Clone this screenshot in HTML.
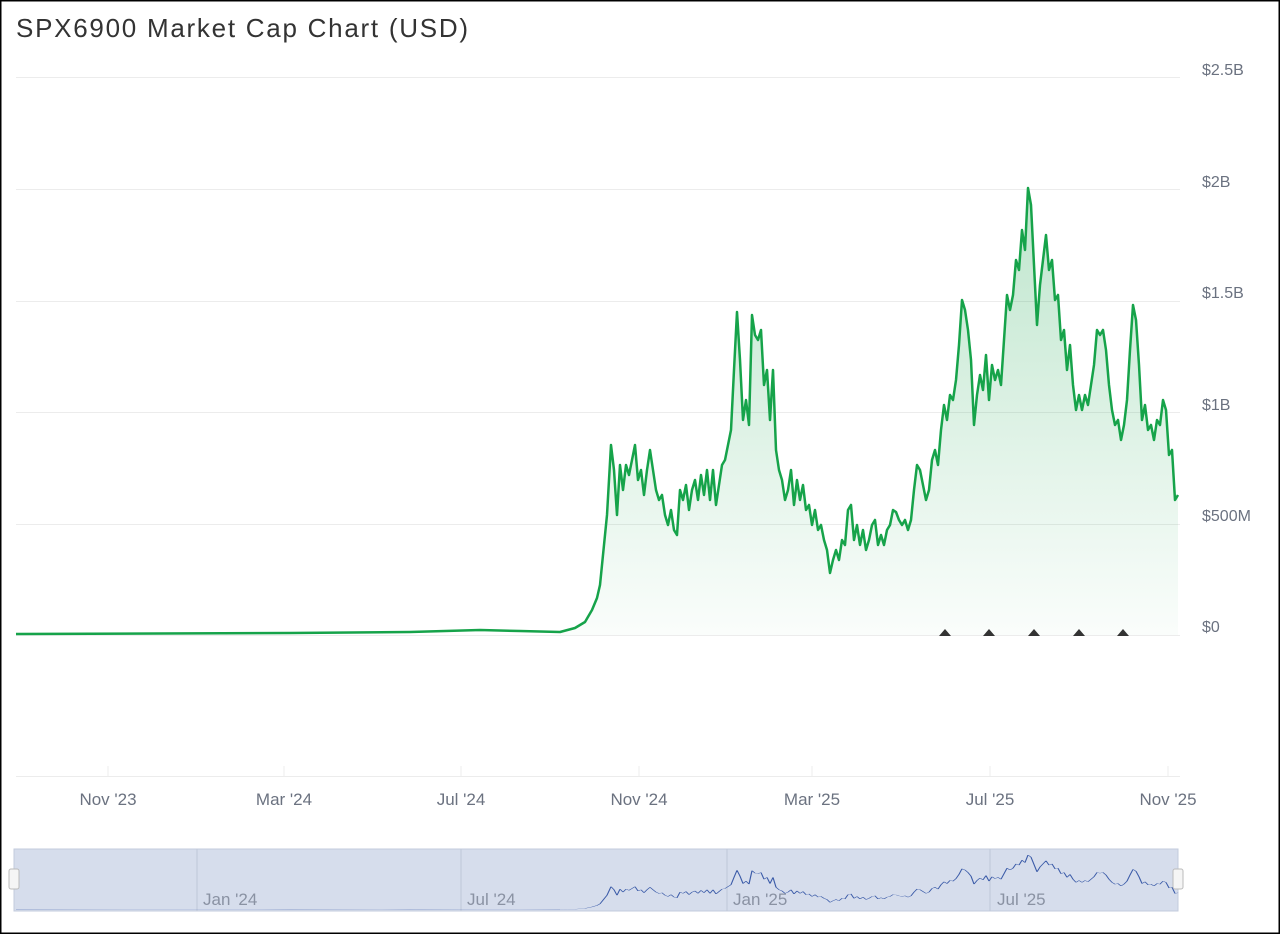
<!DOCTYPE html>
<html><head><meta charset="utf-8"><style>
html,body{margin:0;padding:0;background:#fff}
body{width:1280px;height:934px;overflow:hidden;position:relative;font-family:"Liberation Sans",sans-serif}
</style></head><body>
<svg width="1280" height="934" viewBox="0 0 1280 934" style="position:absolute;left:0;top:0">
<defs>
<linearGradient id="g" x1="0" y1="0" x2="0" y2="1">
<stop offset="0" stop-color="#16a34a" stop-opacity="0.28"/>
<stop offset="1" stop-color="#16a34a" stop-opacity="0.02"/>
</linearGradient>
<polyline id="ln" points="16,634 290,633 410,632 480,630 520,631 560,632 575,628 585,622 592,610 597,598 600,585 604,545 607,515 611,445 614,470 617,515 620,465 623,490 626,465 629,475 632,460 635,445 638,480 641,470 644,495 647,470 650,450 653,470 656,490 659,500 662,495 665,515 668,525 671,510 674,530 677,535 680,490 683,500 686,485 689,510 692,490 695,480 698,500 701,475 704,495 707,470 710,500 713,470 716,505 719,485 722,465 725,460 728,445 731,430 734,370 737,312 740,360 743,420 746,400 749,425 752,315 755,335 758,340 761,330 764,385 767,370 770,420 773,370 776,450 779,470 782,480 785,500 788,490 791,470 794,505 797,480 800,500 803,485 806,510 809,505 812,525 815,510 818,530 821,525 824,540 827,550 830,573 833,560 836,550 839,560 842,540 845,545 848,510 851,505 854,540 857,525 860,545 863,530 866,550 869,540 872,525 875,520 878,545 881,535 884,545 887,530 890,525 893,510 896,512 899,520 902,525 905,520 908,530 911,520 914,490 917,465 920,470 923,485 926,500 929,490 932,460 935,450 938,465 941,430 944,405 947,420 950,395 953,400 956,380 959,345 962,300 965,310 968,330 971,360 974,425 977,395 980,375 983,390 986,355 989,400 992,365 995,380 998,370 1001,385 1004,340 1007,295 1010,310 1013,295 1016,260 1019,270 1022,230 1025,250 1028,188 1031,205 1034,265 1037,325 1040,285 1043,260 1046,235 1049,270 1052,260 1055,300 1058,295 1061,340 1064,330 1067,370 1070,345 1073,385 1076,410 1079,395 1082,410 1085,395 1088,405 1091,385 1094,365 1097,330 1100,335 1103,330 1106,350 1109,385 1112,410 1115,425 1118,420 1121,440 1124,425 1127,400 1130,350 1133,305 1136,320 1139,365 1142,420 1145,405 1148,430 1151,425 1154,440 1157,420 1160,425 1163,400 1166,410 1169,455 1172,450 1175,500 1178,495"/>
</defs>
<rect x="0.5" y="0.5" width="1279" height="933" fill="none" stroke="#000" stroke-width="2"/>
<text x="16" y="37" font-size="26" fill="#333" textLength="452" lengthAdjust="spacing">SPX6900 Market Cap Chart (USD)</text>
<g stroke="#ececec" stroke-width="1">
<line x1="16" x2="1180" y1="77.5" y2="77.5"/><line x1="16" x2="1180" y1="189.5" y2="189.5"/>
<line x1="16" x2="1180" y1="301.5" y2="301.5"/><line x1="16" x2="1180" y1="412.5" y2="412.5"/>
<line x1="16" x2="1180" y1="524.5" y2="524.5"/><line x1="16" x2="1180" y1="635.5" y2="635.5"/>
<line x1="16" x2="1180" y1="776.5" y2="776.5"/>
<line x1="108" x2="108" y1="776" y2="766"/><line x1="284" x2="284" y1="776" y2="766"/><line x1="461" x2="461" y1="776" y2="766"/><line x1="639" x2="639" y1="776" y2="766"/><line x1="812" x2="812" y1="776" y2="766"/><line x1="990" x2="990" y1="776" y2="766"/><line x1="1168" x2="1168" y1="776" y2="766"/>
</g>
<g font-size="16" fill="#6b7280">
<text x="1202" y="75">$2.5B</text><text x="1202" y="187">$2B</text><text x="1202" y="298">$1.5B</text><text x="1202" y="410">$1B</text><text x="1202" y="521">$500M</text><text x="1202" y="632">$0</text>
</g>
<g font-size="17" fill="#6b7280" text-anchor="middle">
<text x="108" y="805">Nov '23</text><text x="284" y="805">Mar '24</text><text x="461" y="805">Jul '24</text><text x="639" y="805">Nov '24</text><text x="812" y="805">Mar '25</text><text x="990" y="805">Jul '25</text><text x="1168" y="805">Nov '25</text>
</g>
<polygon points="560,632 575,628 585,622 592,610 597,598 600,585 604,545 607,515 611,445 614,470 617,515 620,465 623,490 626,465 629,475 632,460 635,445 638,480 641,470 644,495 647,470 650,450 653,470 656,490 659,500 662,495 665,515 668,525 671,510 674,530 677,535 680,490 683,500 686,485 689,510 692,490 695,480 698,500 701,475 704,495 707,470 710,500 713,470 716,505 719,485 722,465 725,460 728,445 731,430 734,370 737,312 740,360 743,420 746,400 749,425 752,315 755,335 758,340 761,330 764,385 767,370 770,420 773,370 776,450 779,470 782,480 785,500 788,490 791,470 794,505 797,480 800,500 803,485 806,510 809,505 812,525 815,510 818,530 821,525 824,540 827,550 830,573 833,560 836,550 839,560 842,540 845,545 848,510 851,505 854,540 857,525 860,545 863,530 866,550 869,540 872,525 875,520 878,545 881,535 884,545 887,530 890,525 893,510 896,512 899,520 902,525 905,520 908,530 911,520 914,490 917,465 920,470 923,485 926,500 929,490 932,460 935,450 938,465 941,430 944,405 947,420 950,395 953,400 956,380 959,345 962,300 965,310 968,330 971,360 974,425 977,395 980,375 983,390 986,355 989,400 992,365 995,380 998,370 1001,385 1004,340 1007,295 1010,310 1013,295 1016,260 1019,270 1022,230 1025,250 1028,188 1031,205 1034,265 1037,325 1040,285 1043,260 1046,235 1049,270 1052,260 1055,300 1058,295 1061,340 1064,330 1067,370 1070,345 1073,385 1076,410 1079,395 1082,410 1085,395 1088,405 1091,385 1094,365 1097,330 1100,335 1103,330 1106,350 1109,385 1112,410 1115,425 1118,420 1121,440 1124,425 1127,400 1130,350 1133,305 1136,320 1139,365 1142,420 1145,405 1148,430 1151,425 1154,440 1157,420 1160,425 1163,400 1166,410 1169,455 1172,450 1175,500 1178,495 1178,635 560,635" fill="url(#g)"/>
<use href="#ln" fill="none" stroke="#16a34a" stroke-width="2.5" stroke-linejoin="round"/>
<g fill="#333">
<path d="M939,636 L945,629 L951,636Z"/><path d="M983,636 L989,629 L995,636Z"/><path d="M1028,636 L1034,629 L1040,636Z"/><path d="M1073,636 L1079,629 L1085,636Z"/><path d="M1117,636 L1123,629 L1129,636Z"/>
</g>
<rect x="14" y="849" width="1164" height="62" fill="#d6ddec" stroke="#c3cbdc"/>
<g stroke="#bfc7d8"><line x1="197" x2="197" y1="849" y2="911"/><line x1="461" x2="461" y1="849" y2="911"/><line x1="727" x2="727" y1="849" y2="911"/><line x1="990" x2="990" y1="849" y2="911"/></g>
<g font-size="17" fill="#8a92a3"><text x="203" y="905">Jan '24</text><text x="467" y="905">Jul '24</text><text x="733" y="905">Jan '25</text><text x="997" y="905">Jul '25</text></g>
<g transform="translate(0,831.9) scale(1,0.123)"><use href="#ln" fill="none" stroke="#3b5ba8" stroke-width="1.2" vector-effect="non-scaling-stroke"/></g>
<rect x="9" y="869" width="10" height="20" rx="2" fill="#f5f5f5" stroke="#bbb"/>
<rect x="1173" y="869" width="10" height="20" rx="2" fill="#f5f5f5" stroke="#bbb"/>
</svg>
</body></html>
